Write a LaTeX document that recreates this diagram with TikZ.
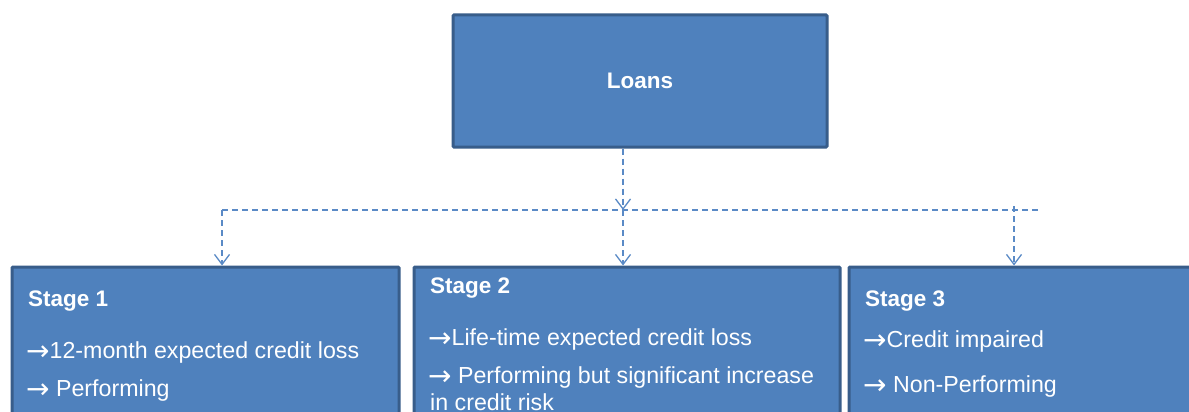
\documentclass[tikz,border=0pt]{standalone}
\usepackage{fontspec}
\setmainfont{Liberation Sans}
\newfontfamily\arrfont{DejaVu Sans}
\usetikzlibrary{arrows.meta}
\definecolor{boxfill}{HTML}{4F81BD}
\definecolor{boxline}{HTML}{385D8A}
\definecolor{conncol}{HTML}{5A8AC6}
\newcommand{\rarr}{\raisebox{-2.5pt}{\arrfont\fontsize{28}{27}\selectfont →}}
\tikzset{
  stagebox/.style={draw=boxline, fill=boxfill, line width=3pt, rectangle, inner sep=0pt, rounded corners=1pt},
  lbl/.style={text=white, anchor=base west, inner sep=0pt, font=\fontsize{23.2}{27}\selectfont},
  hdr/.style={text=white, anchor=base west, inner sep=0pt, font=\fontsize{22.5}{27}\selectfont\bfseries},
  connline/.style={draw=conncol, dash pattern=on 6pt off 4pt, line width=1.5pt},
  arr/.style={connline, -{Straight Barb[length=10pt,width=15pt,line width=1.3pt]}}
}
\begin{document}
\begin{tikzpicture}[x=1pt,y=-1pt]
\useasboundingbox (0,0) rectangle (1189,412);
\fill[white] (0,0) rectangle (1189,412);
\clip (0,0) rectangle (1189,412);

\node[stagebox, minimum width=374pt, minimum height=132pt, text=white,
      font=\fontsize{22.5}{27}\selectfont\bfseries] (loans) at (640,81) {Loans};

\node[stagebox, minimum width=387pt, minimum height=173pt] (s1) at (205.5,353.5) {};
\node[stagebox, minimum width=426pt, minimum height=173pt] (s2) at (627,353.5) {};
\node[stagebox, minimum width=351pt, minimum height=173pt] (s3) at (1024.5,353.5) {};

\node[hdr] (s1h) at (28,306) {Stage 1};
\node[lbl] (s1a) at (26,358) {\rarr 12-month expected credit loss};
\node[lbl] (s1b) at (26,396) {\rarr{} Performing};

\node[hdr] (s2h) at (430,293) {Stage 2};
\node[lbl] (s2a) at (428,345) {\rarr Life-time expected credit loss};
\node[lbl] (s2b) at (428,383) {\rarr{} Performing but significant increase};
\node[lbl] (s2c) at (430,410) {in credit risk};

\node[hdr] (s3h) at (865,306) {Stage 3};
\node[lbl] (s3a) at (863,347) {\rarr Credit impaired};
\node[lbl] (s3b) at (863,392) {\rarr{} Non-Performing};

\coordinate (j1) at (222,210);
\coordinate (j2) at (623,210);
\coordinate (j3) at (1014,210);
\coordinate (j3t) at (1014,206);
\coordinate (hr) at (1040,210);

\draw[connline] (j1) -- (hr);
\draw[arr] (j2 |- loans.south) -- (j2);
\draw[arr] (j1) -- (j1 |- s1.north);
\draw[arr] (j2) -- (j2 |- s2.north);
\draw[arr] (j3t) -- (j3 |- s3.north);
\end{tikzpicture}
\end{document}
